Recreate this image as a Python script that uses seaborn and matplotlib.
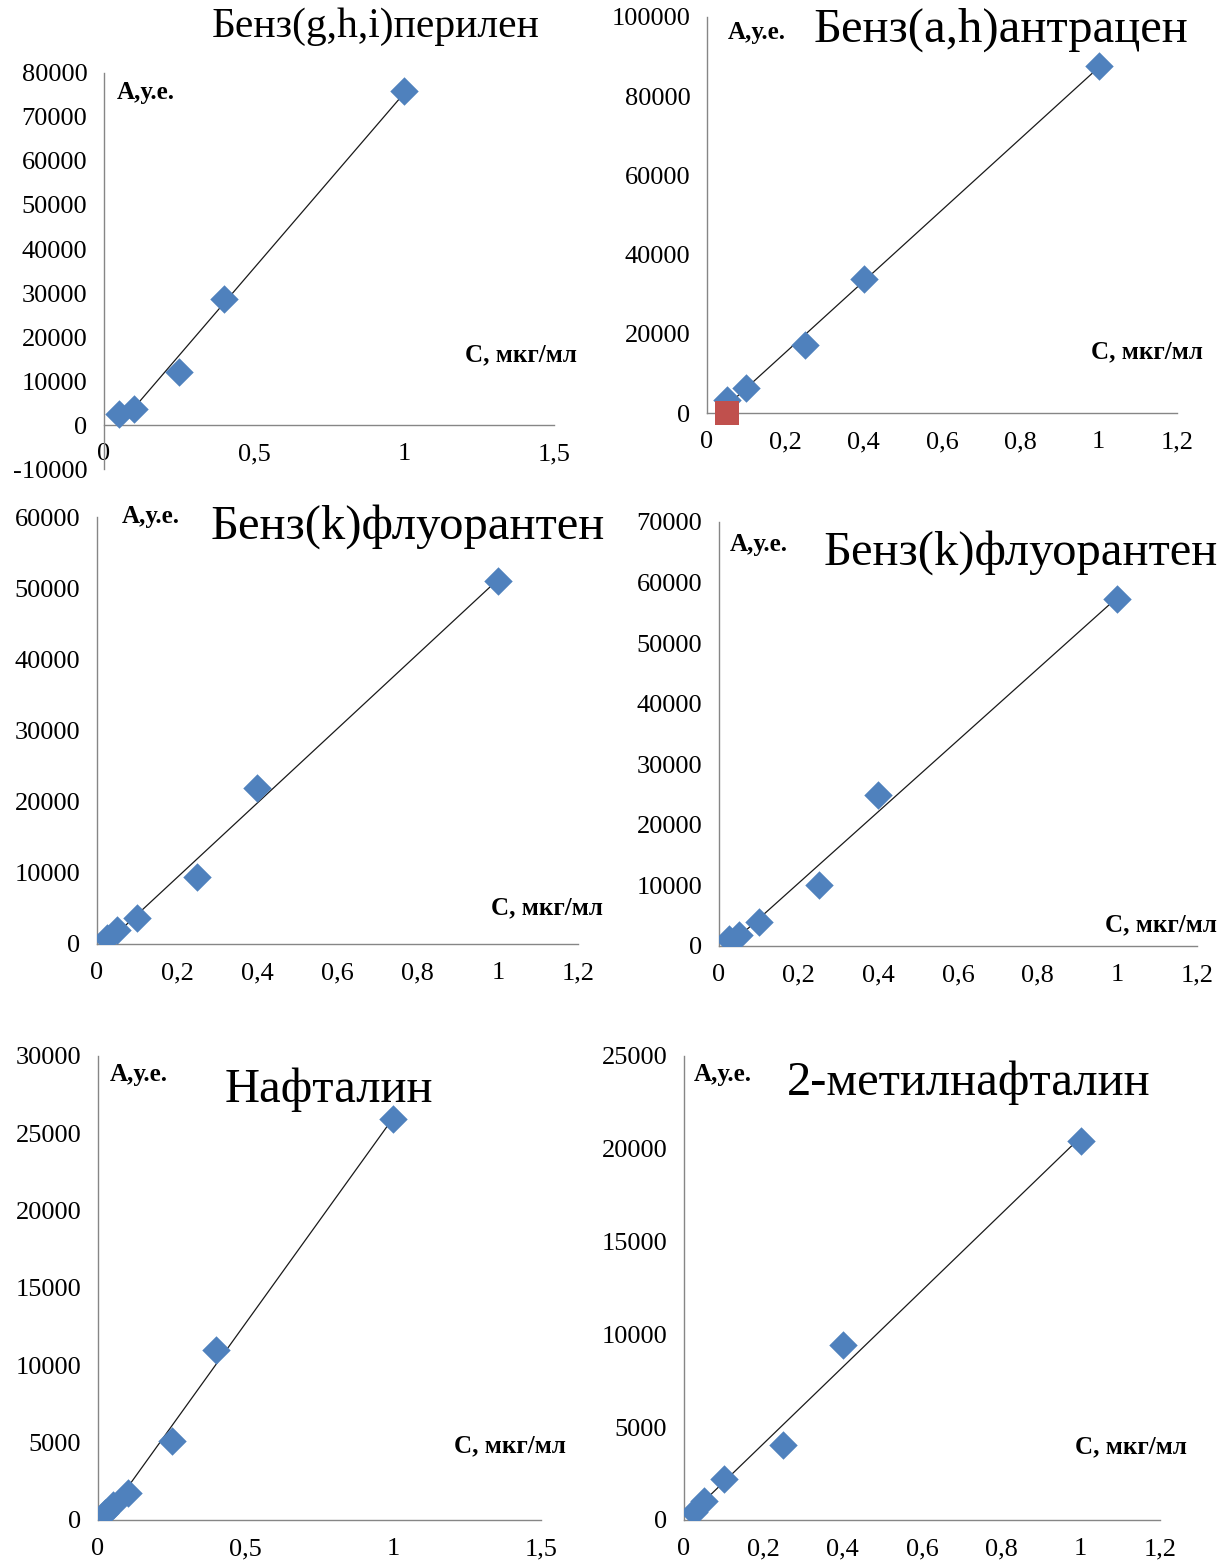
import numpy as np
import matplotlib
matplotlib.use("Agg")
import matplotlib.pyplot as plt
from matplotlib.ticker import FuncFormatter, MultipleLocator
import seaborn as sns

sns.set_theme(style="white")
plt.rcParams['font.family'] = ['Liberation Serif', 'DejaVu Serif']
plt.rcParams['text.color'] = 'black'

# ---- data ----
titles = ["Бенз(g,h,i)перилен", "Бенз(a,h)антрацен", "Бенз(k)флуорантен",
          "Бенз(k)флуорантен", "Нафталин", "2-метилнафталин"]

x1 = [0.05, 0.1, 0.25, 0.4, 1.0]
y1 = [2500, 3600, 12000, 28700, 75800]

x2 = [0.05, 0.1, 0.25, 0.4, 1.0]
y2 = [3300, 6400, 17200, 33800, 87600]
x2_red = [0.05]
y2_red = [0]

x3 = [0.025, 0.05, 0.1, 0.25, 0.4, 1.0]
y3 = [850, 2000, 3650, 9400, 21900, 51000]

x4 = [0.025, 0.05, 0.1, 0.25, 0.4, 1.0]
y4 = [1200, 1800, 4000, 10000, 24900, 57300]

x5 = [0.025, 0.05, 0.1, 0.25, 0.4, 1.0]
y5 = [450, 950, 1750, 5100, 11000, 25900]

x6 = [0.025, 0.05, 0.1, 0.25, 0.4, 1.0]
y6 = [450, 1000, 2200, 4050, 9450, 20400]

ylabel_text = "А,у.е."
xlabel_text = "С, мкг/мл"

W, H = 1230, 1566
fig = plt.figure(figsize=(W / 100, H / 100), dpi=100)

BLUE = "#4F81BD"
RED = "#C0504D"
AXC = "#868686"


def px_axes(left, right, top, bottom):
    return fig.add_axes([left / W, 1 - bottom / H, (right - left) / W, (bottom - top) / H])


def fmt(v, pos):
    s = ("%g" % round(v, 6)).replace(".", ",")
    return s


panels = [
    dict(x=x1, y=y1, box=(104, 554, 73, 469), xlim=(0, 1.5), xs=0.5, ylim=(-10000, 80000), ys=10000,
         t=(376, 27), ts=30, ya=(117, 93), xa=(577, 355)),
    dict(x=x2, y=y2, box=(707, 1177, 17, 413), xlim=(0, 1.2), xs=0.2, ylim=(0, 100000), ys=20000,
         t=(1001, 30), ts=35, ya=(728, 33), xa=(1203, 352)),
    dict(x=x3, y=y3, box=(97, 578, 517, 944), xlim=(0, 1.2), xs=0.2, ylim=(0, 60000), ys=10000,
         t=(408, 527), ts=35, ya=(122, 516), xa=(603, 908)),
    dict(x=x4, y=y4, box=(719, 1197, 522, 946), xlim=(0, 1.2), xs=0.2, ylim=(0, 70000), ys=10000,
         t=(1021, 553), ts=35, ya=(730, 544), xa=(1217, 925)),
    dict(x=x5, y=y5, box=(98, 541, 1056, 1520), xlim=(0, 1.5), xs=0.5, ylim=(0, 30000), ys=5000,
         t=(329, 1090), ts=35, ya=(110, 1075), xa=(566, 1446)),
    dict(x=x6, y=y6, box=(684, 1160, 1056, 1520), xlim=(0, 1.2), xs=0.2, ylim=(0, 25000), ys=5000,
         t=(969, 1083), ts=35, ya=(694, 1075), xa=(1187, 1447)),
]

for i, p in enumerate(panels):
    ax = px_axes(*p["box"])
    ax.set_facecolor("none")
    sns.regplot(x=np.array(p["x"]), y=np.array(p["y"]), ax=ax, ci=None, scatter=False,
                truncate=True, line_kws=dict(color="#1a1a1a", lw=0.9))
    sns.scatterplot(x=p["x"], y=p["y"], ax=ax, marker="D", s=210, color=BLUE,
                    linewidth=0, zorder=3, legend=False)
    if i == 1:
        sns.scatterplot(x=x2_red, y=y2_red, ax=ax, marker="s", s=300, color=RED,
                        linewidth=0, zorder=4, legend=False, clip_on=False)
    ax.set_xlim(*p["xlim"])
    ax.set_ylim(*p["ylim"])
    ax.xaxis.set_major_locator(MultipleLocator(p["xs"]))
    ax.yaxis.set_major_locator(MultipleLocator(p["ys"]))
    ax.xaxis.set_major_formatter(FuncFormatter(fmt))
    ax.yaxis.set_major_formatter(FuncFormatter(fmt))
    for side in ("top", "right"):
        ax.spines[side].set_visible(False)
    for side in ("left", "bottom"):
        ax.spines[side].set_color(AXC)
        ax.spines[side].set_linewidth(1.0)
    if p["ylim"][0] < 0:
        ax.spines["bottom"].set_position(("data", 0))
    ax.tick_params(axis="both", direction="out", length=5, width=1.0, color=AXC,
                   labelsize=19, labelcolor="black", pad=7)
    ax.tick_params(axis="x", pad=8)
    ax.set_xlabel("")
    ax.set_ylabel("")
    ax.grid(False)
    fig.text(p["t"][0] / W, 1 - p["t"][1] / H, titles[i], ha="center", va="center",
             fontsize=p["ts"], color="black")
    fig.text(p["ya"][0] / W, 1 - p["ya"][1] / H, ylabel_text, ha="left", va="center",
             fontsize=18, fontweight="bold", color="black")
    fig.text(p["xa"][0] / W, 1 - p["xa"][1] / H, xlabel_text, ha="right", va="center",
             fontsize=18, fontweight="bold", color="black")

fig.savefig("out.png", dpi=100, facecolor="white")
